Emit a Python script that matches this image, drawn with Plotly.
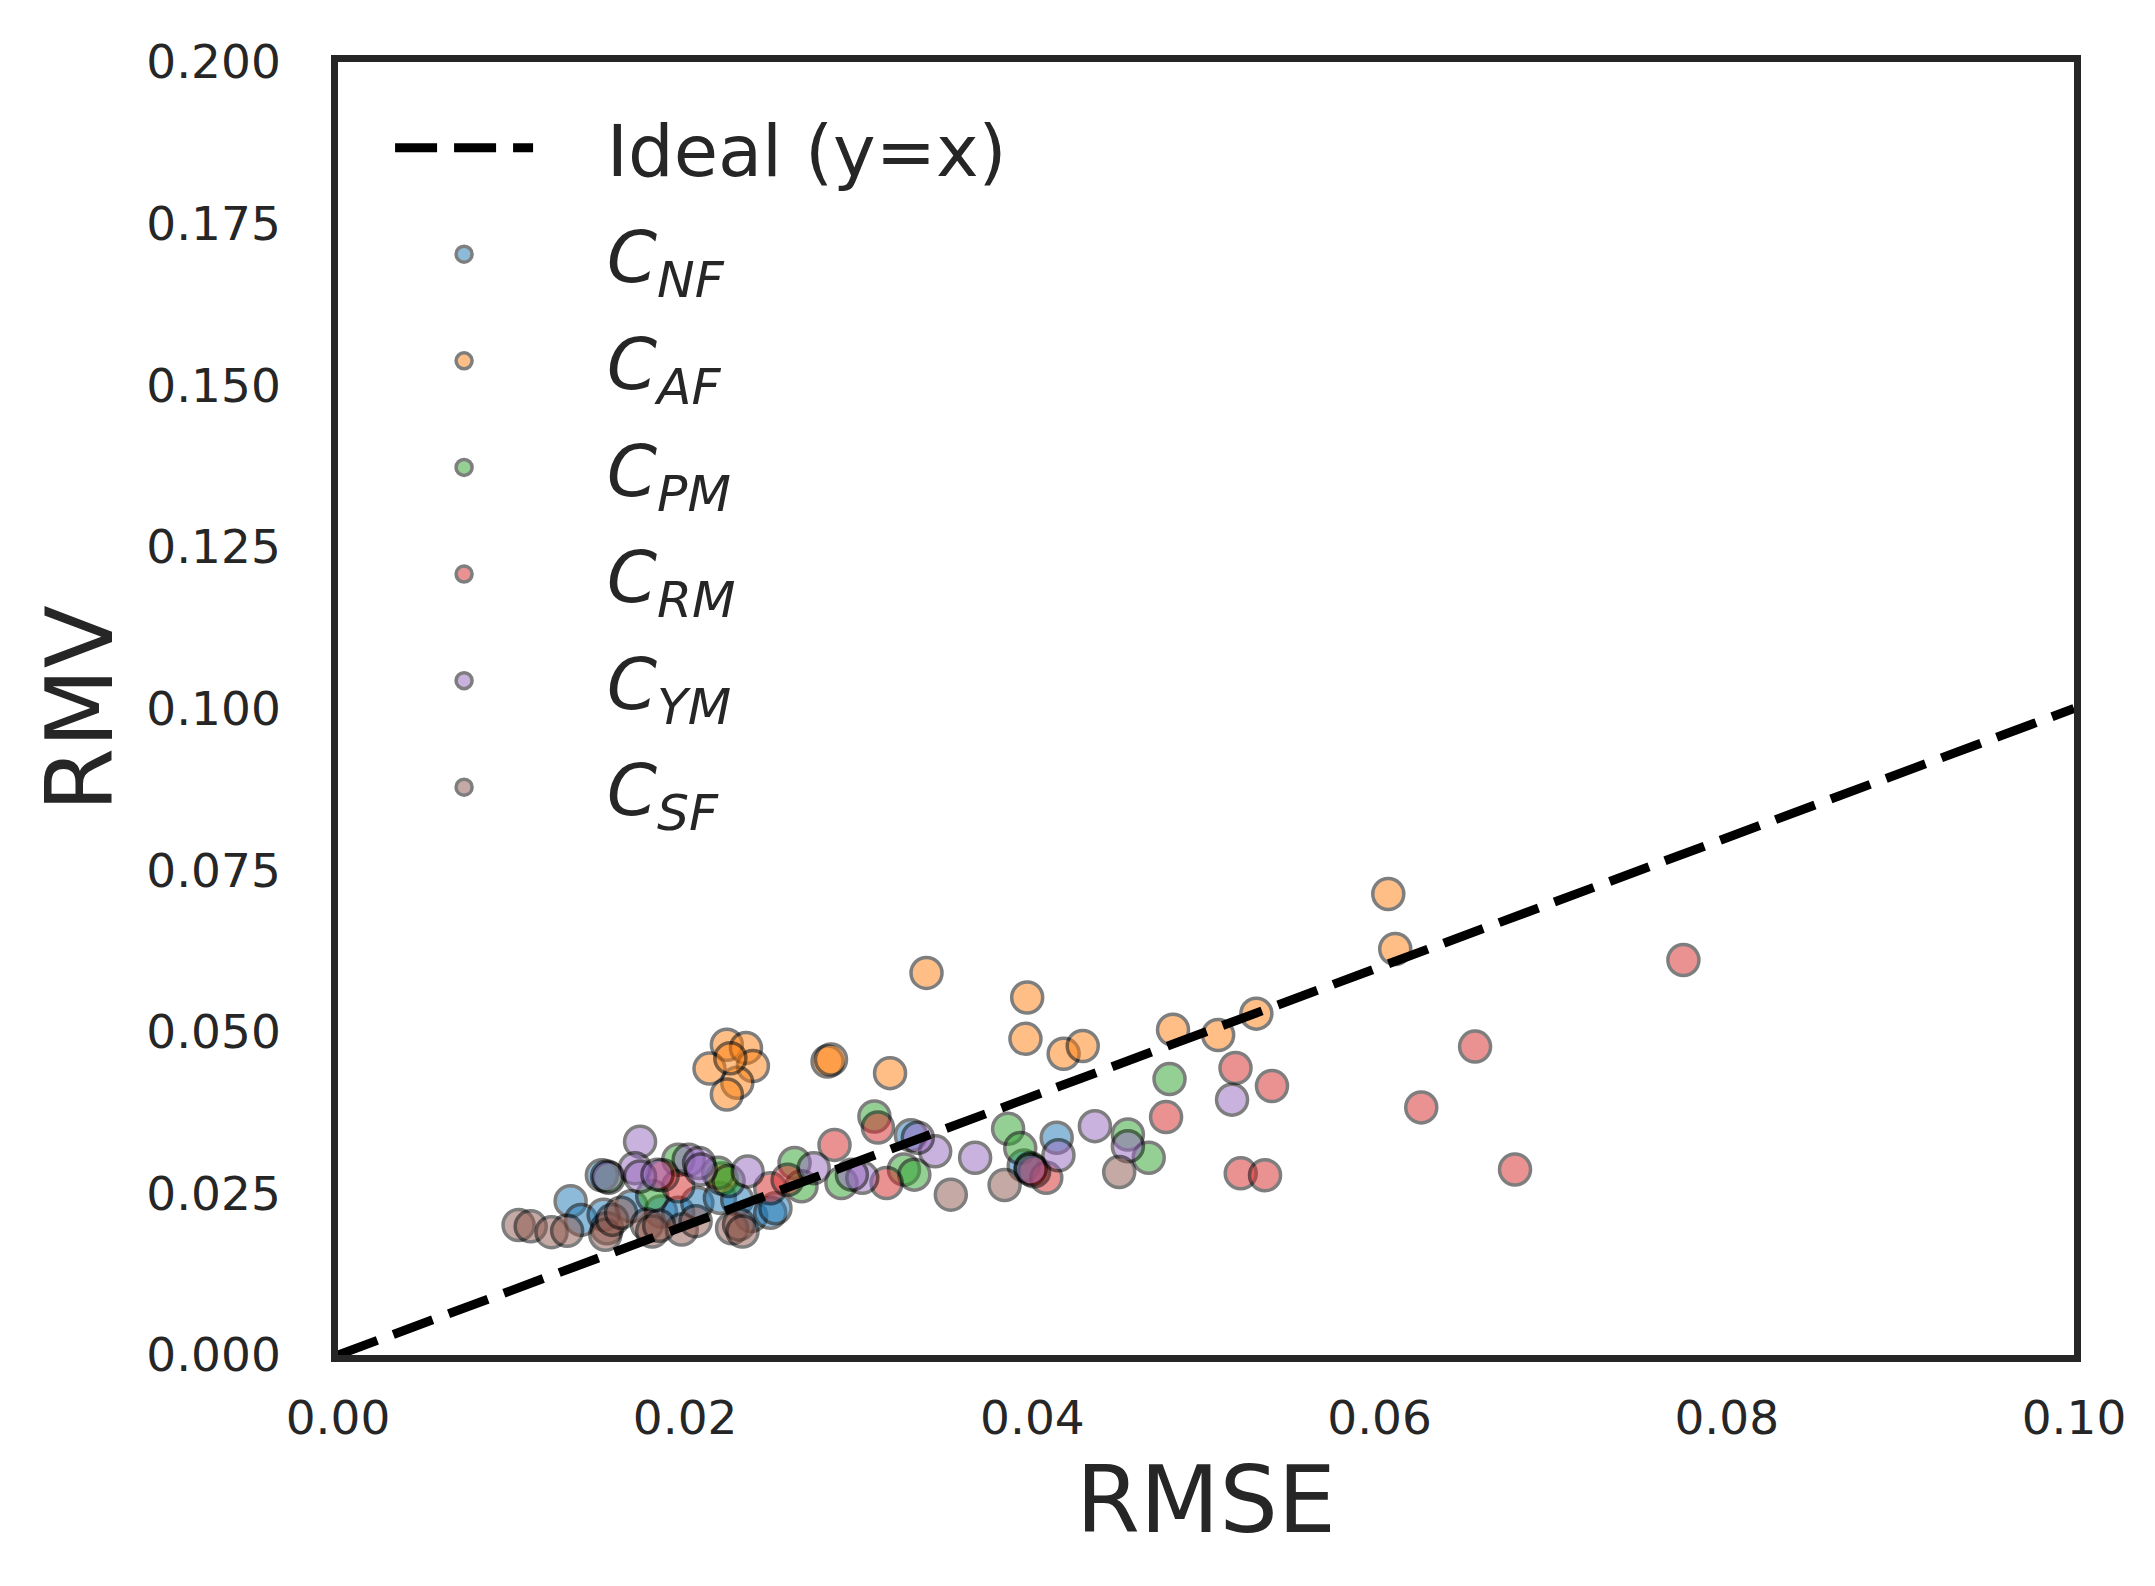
import plotly.graph_objects as go

# values
ideal = [0.0, 0.1]

nf_rmse = [0.0134, 0.0140, 0.0153, 0.0169, 0.0186, 0.0196, 0.0207, 0.0220, 0.0230, 0.0238,
           0.0249, 0.0252, 0.0152, 0.0330, 0.0414, 0.0395]
nf_rmv = [0.0238, 0.0209, 0.0217, 0.0230, 0.0222, 0.0220, 0.0235, 0.0243, 0.0240, 0.0215,
          0.0220, 0.0227, 0.0278, 0.0340, 0.0336, 0.0293]

af_rmse = [0.0605, 0.0609, 0.0339, 0.0397, 0.0396, 0.0418, 0.0429, 0.0318, 0.0282, 0.0284,
           0.0224, 0.0235, 0.0214, 0.0239, 0.0230, 0.0224, 0.0226, 0.0481, 0.0507, 0.0529, 0.0221]
af_rmv = [0.0713, 0.0628, 0.0591, 0.0553, 0.0489, 0.0466, 0.0478, 0.0436, 0.0454, 0.0457,
          0.0480, 0.0475, 0.0443, 0.0447, 0.0421, 0.0403, 0.0459, 0.0503, 0.0495, 0.0528, 0.0273]

pm_rmse = [0.0309, 0.0386, 0.0393, 0.0479, 0.0455, 0.0467, 0.0326, 0.0332, 0.0181, 0.0196,
           0.0219, 0.0263, 0.0267, 0.0290, 0.0156, 0.0225, 0.0399]
pm_rmv = [0.0369, 0.0350, 0.0320, 0.0427, 0.0341, 0.0305, 0.0287, 0.0279, 0.0246, 0.0302,
          0.0282, 0.0297, 0.0261, 0.0266, 0.0274, 0.0269, 0.0289]

rm_rmse = [0.0311, 0.0517, 0.0538, 0.0477, 0.0520, 0.0534, 0.0316, 0.0408, 0.0401, 0.0775,
           0.0655, 0.0624, 0.0678, 0.0196, 0.0187, 0.0249, 0.0259, 0.0286]
rm_rmv = [0.0352, 0.0444, 0.0416, 0.0368, 0.0281, 0.0278, 0.0266, 0.0274, 0.0284, 0.0611,
          0.0477, 0.0383, 0.0287, 0.0261, 0.0278, 0.0258, 0.0271, 0.0325]

ym_rmse = [0.0344, 0.0367, 0.0436, 0.0515, 0.0415, 0.0455, 0.0334, 0.0302, 0.0399, 0.0174,
           0.0171, 0.0174, 0.0184, 0.0202, 0.0208, 0.0209, 0.0236, 0.0274, 0.0296, 0.0155]
ym_rmv = [0.0315, 0.0305, 0.0354, 0.0395, 0.0309, 0.0323, 0.0336, 0.0274, 0.0287, 0.0330,
          0.0289, 0.0276, 0.0279, 0.0302, 0.0297, 0.0287, 0.0284, 0.0289, 0.0279, 0.0276]

sf_rmse = [0.0104, 0.0111, 0.0123, 0.0132, 0.0155, 0.0154, 0.0158, 0.0163, 0.0178, 0.0181,
           0.0198, 0.0206, 0.0227, 0.0231, 0.0233, 0.0353, 0.0384, 0.0450, 0.0185]
sf_rmv = [0.0201, 0.0199, 0.0190, 0.0192, 0.0196, 0.0186, 0.0209, 0.0220, 0.0202, 0.0191,
          0.0194, 0.0207, 0.0196, 0.0202, 0.0191, 0.0248, 0.0263, 0.0283, 0.0200]

series = [
    ('NF', nf_rmse, nf_rmv, '#1f77b4'),
    ('AF', af_rmse, af_rmv, '#ff7f0e'),
    ('PM', pm_rmse, pm_rmv, '#2ca02c'),
    ('RM', rm_rmse, rm_rmv, '#d62728'),
    ('YM', ym_rmse, ym_rmv, '#9467bd'),
    ('SF', sf_rmse, sf_rmv, '#8c564b'),
]

text_col = '#262626'
pad = '\u00a0\u00a0\u00a0'   # room between legend symbol and label
fig = go.Figure()

for i, (name, xs, ys, col) in enumerate(series):
    fig.add_trace(go.Scatter(
        x=xs, y=ys, mode='markers', name=pad + '<i>C<sub>%s</sub></i>' % name,
        legendgroup=name, legendrank=i + 2,
        marker=dict(size=31, color=col, opacity=0.5,
                    line=dict(color='black', width=3.5)),
    ))

# ideal line on top of the points, first in the legend
fig.add_trace(go.Scatter(
    x=ideal, y=ideal, mode='lines', name=pad + 'Ideal (y=x)',
    legendgroup='ideal', legendrank=1,
    line=dict(color='black', width=9, dash='42px,17px'),
))

axis_common = dict(
    showgrid=False, zeroline=False,
    showline=True, linecolor=text_col, linewidth=6.5, mirror=True,
    ticks='outside', tickcolor='rgba(0,0,0,0)',
    tickfont=dict(family='DejaVu Sans', size=47, color=text_col),
)

fig.update_xaxes(range=[0, 0.1], tickvals=[0, 0.02, 0.04, 0.06, 0.08, 0.1],
                 ticktext=['0.00', '0.02', '0.04', '0.06', '0.08', '0.10'], ticklen=16,
                 title=dict(text='RMSE', font=dict(family='DejaVu Sans', size=92, color=text_col),
                            standoff=26),
                 **axis_common)
fig.update_yaxes(range=[0, 0.2], tickvals=[0, 0.025, 0.05, 0.075, 0.1, 0.125, 0.15, 0.175, 0.2],
                 ticktext=['0.000', '0.025', '0.050', '0.075', '0.100', '0.125', '0.150', '0.175', '0.200'],
                 ticklen=41,
                 title=dict(text='RMV', font=dict(family='DejaVu Sans', size=92, color=text_col),
                            standoff=6),
                 **axis_common)

fig.update_layout(
    width=2155, height=1586, autosize=False,
    margin=dict(l=330, r=89, t=54, b=239),
    paper_bgcolor='white', plot_bgcolor='white',
    font=dict(family='DejaVu Sans', color=text_col),
    showlegend=True,
    legend=dict(x=0.03, y=0.975, xanchor='left', yanchor='top',
                bgcolor='rgba(0,0,0,0)', borderwidth=0,
                font=dict(family='DejaVu Sans', size=72, color=text_col),
                itemwidth=138, tracegroupgap=10),
)

fig.write_html('out.html')
